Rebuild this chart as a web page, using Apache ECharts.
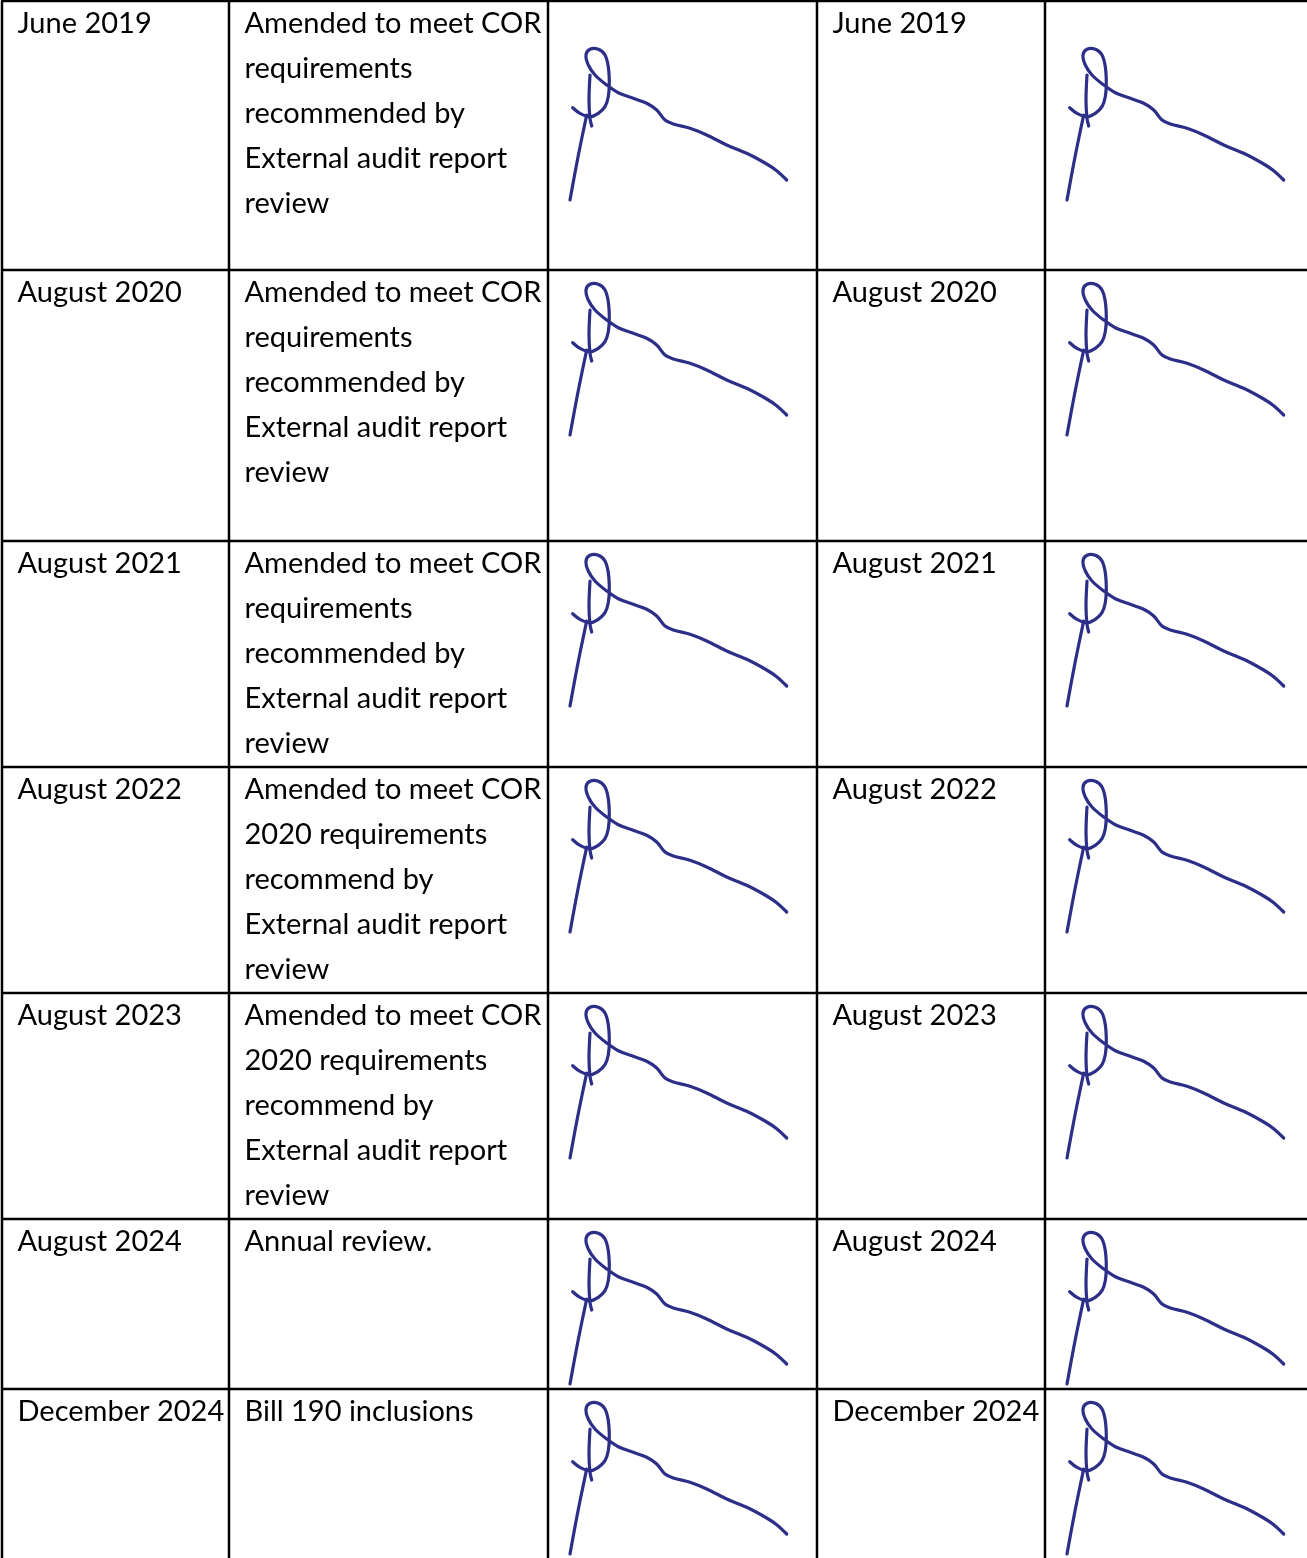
<!DOCTYPE html>
<html>
<head>
<meta charset="utf-8">
<script src="https://cdn.jsdelivr.net/npm/echarts@6/dist/echarts.min.js"></script>
<style>
html,body{margin:0;padding:0;background:#fff;}
#chart{width:1307px;height:1558px;}
</style>
</head>
<body>
<div id="chart"></div>
<script>
// ---- data ----
const revisionDates = ["June 2019","August 2020","August 2021","August 2022","August 2023","August 2024","December 2024"];
const descriptions = [
  ["Amended to meet COR","requirements","recommended by","External audit report","review"],
  ["Amended to meet COR","requirements","recommended by","External audit report","review"],
  ["Amended to meet COR","requirements","recommended by","External audit report","review"],
  ["Amended to meet COR","2020 requirements","recommend by","External audit report","review"],
  ["Amended to meet COR","2020 requirements","recommend by","External audit report","review"],
  ["Annual review."],
  ["Bill 190 inclusions"]
];
const approvedDates = ["June 2019","August 2020","August 2021","August 2022","August 2023","August 2024","December 2024"];

// ---- layout (pixel-space axes) ----
const colEdges = [2, 229, 548, 817, 1045, 1307];
const rowEdges = [1, 270, 541, 767, 993, 1219, 1389, 1558];
const textPad = 15.5;
const lineGap = 45;
const sigCols = [2, 4];
// signature strokes, in units local to a signature cell (origin: cell left, row reference)
const sigStrokes = [
  [[42,75],[41,100],[42,118.3],[43.7,126]],
  [[38.7,115],[30,157],[22,200]],
  [[24.7,107.7],[32,113.3],[42,116.7],[50.3,113.3],[57,106.7],[60.3,96.7],[61.3,83.3],[60.3,66.7],[57,55],[50.3,49.3],[42,49.3],[38,55],[40.3,65],[47,75],[58.7,85],[70.3,92.7],[85.3,98.3],[98.7,103.3],[108.7,110],[117,120],[125.3,124],[142,128.3],[158.7,135],[178.7,145],[198.7,153.3],[218.7,164],[228.7,170.7],[238.7,180]]
];

const chart = echarts.init(document.getElementById('chart'), null, {renderer:'canvas'});
const FONT = '29px Lato';

function renderItem(params, api) {
  const r = api.value(0);
  const top = rowEdges[r], bottom = rowEdges[r+1];
  const children = [];
  const line = (x1,y1,x2,y2) => {
    const p1 = api.coord([x1,y1]), p2 = api.coord([x2,y2]);
    children.push({type:'line', shape:{x1:p1[0],y1:p1[1],x2:p2[0],y2:p2[1]}, style:{stroke:'#000',lineWidth:2.5}});
  };
  line(colEdges[0]-1, top, colEdges[colEdges.length-1], top);
  for (let c = 0; c < colEdges.length-1; c++) line(colEdges[c], top, colEdges[c], bottom);
  const addText = (col, lines) => {
    const p = api.coord([colEdges[col] + textPad, top + 0.5]);
    children.push({type:'text', style:{text: lines.join('\n'), x:p[0], y:p[1], font: FONT, fill:'#000', lineHeight: lineGap, verticalAlign:'top', align:'left'}});
  };
  addText(0, [revisionDates[r]]);
  addText(1, descriptions[r]);
  addText(3, [approvedDates[r]]);
  const shiftY = r === 0 ? 0 : top - 35;
  sigCols.forEach(c => {
    sigStrokes.forEach(st => {
      const pts = st.map(q => api.coord([colEdges[c] + q[0], shiftY + q[1]]));
      children.push({type:'polyline', shape:{points:pts, smooth:0.35}, style:{stroke:'#2c2e88', lineWidth:3.2, fill:null, lineCap:'round', lineJoin:'round'}});
    });
  });
  return {type:'group', children};
}

chart.setOption({
  backgroundColor:'#fff',
  animation:false,
  grid:{left:0,right:0,top:0,bottom:0},
  xAxis:{type:'value', min:0, max:1307, show:false},
  yAxis:{type:'value', min:0, max:1558, inverse:true, show:false},
  series:[{type:'custom', clip:false, renderItem, data: revisionDates.map((d,i)=>[i])}]
});
</script>
</body>
</html>
